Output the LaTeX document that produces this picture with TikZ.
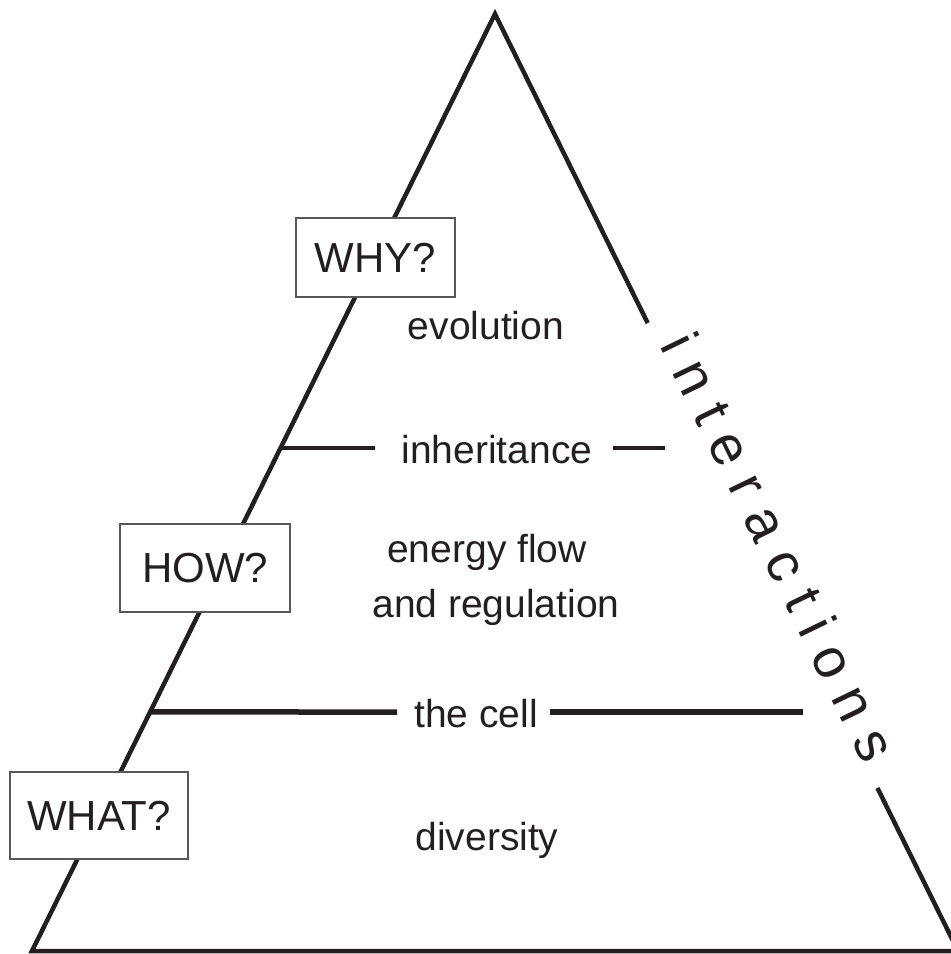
\documentclass[tikz,border=0pt]{standalone}
\usepackage{fontspec}
\setmainfont{Liberation Sans}
\usetikzlibrary{calc}
\definecolor{ink}{HTML}{231F20}
\newcommand\lsp{\hspace{16.5pt}}
\begin{document}
\begin{tikzpicture}[x=1pt,y=-1pt,
  tri/.style={draw=ink,line width=4.5pt,line join=miter},
  tier/.style={draw=ink,line width=#1},
  qbox/.style={draw=ink!75,line width=1.2pt,fill=white,text=ink,
    font=\fontsize{42}{50}\selectfont,inner sep=0pt},
  lbl/.style={text=ink,font=\fontsize{39}{47}\selectfont,inner sep=0pt,anchor=base},
]
\useasboundingbox (0,0) rectangle (951,954);
% triangle corners
\coordinate (A) at (495,14);
\coordinate (BL) at (32,951);
\coordinate (BR) at (958,951);
% right side, broken by the word "interactions"
\coordinate (R1) at ($(A)!0.3298!(BR)$);
\coordinate (R2) at ($(A)!0.8260!(BR)$);
\coordinate (S) at (659,345);
\draw[tri] (R1) -- (A) -- (BL) -- (BR);
\draw[tri] (R2) -- (BR);
% tier lines
\coordinate (I0) at ($(A)!0.4632!(BL)$);
\coordinate (I1) at (375,448);
\coordinate (I2) at (613,448);
\coordinate (I3) at (665,448);
\coordinate (C0) at ($(A)!0.7449!(BL)$);
\coordinate (C1) at (397,712);
\coordinate (C2) at (550,712);
\coordinate (C3) at (803,712);
\draw[tier=3.8pt] (I0) -- (I1);
\draw[tier=3.8pt] (I2) -- (I3);
\draw[tier=5.5pt] (C0) -- (C1);
\draw[tier=5.5pt] (C2) -- (C3);
% labels
\node[lbl] (evo) at (486,339) {evolution};
\node[lbl] (inh) at (497,463) {inheritance};
\node[lbl] (en1) at (487,562) {energy flow};
\node[lbl] (en2) at (496,617) {and regulation};
\node[lbl] (cell) at (476,727) {the cell};
\node[lbl] (div) at (487,850) {diversity};
% question boxes
\node[qbox,minimum width=159pt,minimum height=79pt] (why) at (375.5,257.5) {WHY?};
\node[qbox,minimum width=170pt,minimum height=88pt] (how) at (205,568) {HOW?};
\node[qbox,minimum width=178pt,minimum height=87pt] (what) at (99,815.5) {WHAT?};
% interactions along the right side
\node[text=ink,font=\fontsize{56}{64}\selectfont,inner sep=0pt,anchor=base west,rotate=-64.08]
  (inter) at (S) {i\lsp n\lsp t\lsp e\lsp r\lsp a\lsp c\lsp t\lsp i\lsp o\lsp n\lsp s};
\end{tikzpicture}
\end{document}
